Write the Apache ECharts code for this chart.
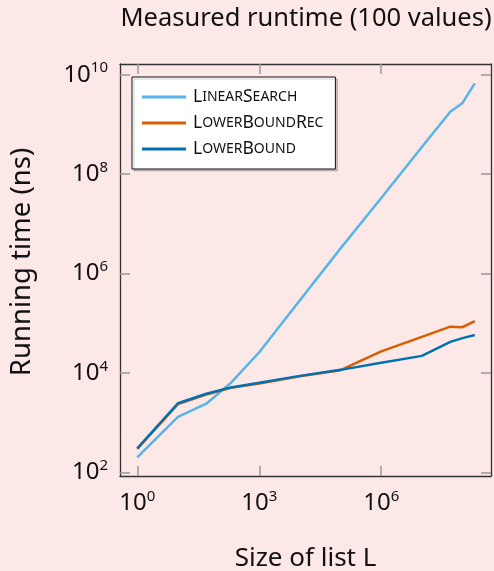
<!DOCTYPE html>
<html>
<head>
<meta charset="utf-8">
<script src="https://cdn.jsdelivr.net/npm/echarts@6/dist/echarts.min.js"></script>
<style>
html,body{margin:0;padding:0;background:#fde8e8;}
#chart{width:494px;height:571px;}
</style>
</head>
<body>
<div id="chart"></div>
<script>
// ---- data ----
const sizes = [1, 10, 50, 200, 1000, 1e4, 1e5, 1e6, 1e7, 5e7, 1e8, 2e8];
const linearSearch = [200, 1300, 2400, 6300, 26000, 290000, 3.2e6, 3.3e7, 3.5e8, 1.8e9, 2.7e9, 6.7e9];
const lowerBoundRec = [295, 2350, 3650, 5000, 6100, 8500, 11300, 27000, 53000, 85000, 83000, 110000];
const lowerBound = [302, 2450, 3800, 5100, 6300, 8700, 11500, 16000, 22000, 42000, 50000, 58000];
const seriesNames = ['LinearSearch', 'LowerBoundRec', 'LowerBound'];
const xTicks = [1, 1e3, 1e6];
const yTicks = [1e2, 1e4, 1e6, 1e8, 1e10];
const titleText = 'Measured runtime (100 values)';
const xTitle = 'Size of list L';
const yTitle = 'Running time (ns)';

const FONT = 'Noto Sans';
const colors = ['#56B4E9', '#D55E00', '#0072B2'];

function pairs(xs, ys) { return xs.map((x, i) => [x, ys[i]]); }
function powLabel(v) {
  const e = Math.round(Math.log10(v));
  return '{b|10}{s|' + e + '}';
}
function smallCaps(name) {
  let out = '';
  let run = '';
  for (const ch of name) {
    if (ch >= 'A' && ch <= 'Z') {
      if (run) { out += '{s|' + run.toUpperCase() + '}'; run = ''; }
      out += '{c|' + ch + '}';
    } else run += ch;
  }
  if (run) out += '{s|' + run.toUpperCase() + '}';
  return out;
}
const labelRich = {
  b: { fontSize: 24, fontFamily: FONT, color: '#111', lineHeight: 28 },
  s: { fontSize: 15, fontFamily: FONT, color: '#111', lineHeight: 16, verticalAlign: 'top' }
};
const frame = { show: true, lineStyle: { color: '#333', width: 1.3 } };
const tick = { show: true, inside: true, length: 10, lineStyle: { color: '#999', width: 1.5 } };

const xMin = Math.pow(10, -0.425), xMax = Math.pow(10, 8.70);
const yMin = Math.pow(10, 1.925), yMax = Math.pow(10, 10.215);

const chart = echarts.init(document.getElementById('chart'), null, { renderer: 'canvas' });
chart.setOption({
  backgroundColor: '#fde8e8',
  animation: false,
  title: {
    text: titleText, left: 306, top: 4, textAlign: 'center', padding: 0,
    textStyle: { fontFamily: FONT, fontSize: 25.5, fontWeight: 'normal', color: '#111', lineHeight: 30 }
  },
  grid: { left: 120, right: 3, top: 64, bottom: 95, containLabel: false, outerBoundsMode: 'none' },
  legend: {
    orient: 'vertical', left: 132, top: 77,
    padding: [11, 12, 11, 10], itemGap: 8, itemWidth: 44, itemHeight: 3, icon: 'rect',
    backgroundColor: '#ffffff', borderColor: '#111', borderWidth: 1,
    shadowColor: 'rgba(0,0,0,0.18)', shadowBlur: 0, shadowOffsetX: 2, shadowOffsetY: 2,
    data: seriesNames,
    formatter: smallCaps,
    textStyle: {
      padding: [0, 0, 0, 2],
      rich: {
        c: { fontSize: 17.5, fontFamily: FONT, color: '#111', lineHeight: 19 },
        s: { fontSize: 14, fontFamily: FONT, color: '#111', lineHeight: 19 }
      }
    }
  },
  xAxis: [{
    type: 'log', logBase: 10, min: xMin, max: xMax,
    axisLine: frame, splitLine: { show: false },
    axisTick: Object.assign({ customValues: xTicks }, tick),
    axisLabel: { customValues: xTicks, formatter: powLabel, rich: labelRich, margin: 13 },
    name: xTitle, nameLocation: 'middle', nameGap: 70,
    nameTextStyle: { fontFamily: FONT, fontSize: 26, color: '#111' }
  }, {
    type: 'log', logBase: 10, min: xMin, max: xMax, position: 'top',
    axisLine: frame, splitLine: { show: false },
    axisTick: Object.assign({ customValues: xTicks }, tick),
    axisLabel: { show: false }
  }],
  yAxis: [{
    type: 'log', logBase: 10, min: yMin, max: yMax,
    axisLine: frame, splitLine: { show: false },
    axisTick: Object.assign({ customValues: yTicks }, tick),
    axisLabel: { customValues: yTicks, formatter: powLabel, rich: labelRich, margin: 12 },
    name: yTitle, nameLocation: 'middle', nameGap: 84, nameRotate: 90,
    nameTextStyle: { fontFamily: FONT, fontSize: 27.5, color: '#111', padding: [0, 0, 0, 16] }
  }, {
    type: 'log', logBase: 10, min: yMin, max: yMax, position: 'right',
    axisLine: frame, splitLine: { show: false },
    axisTick: Object.assign({ customValues: yTicks }, tick),
    axisLabel: { show: false }
  }],
  series: [
    { name: seriesNames[0], type: 'line', data: pairs(sizes, linearSearch), symbol: 'none',
      lineStyle: { width: 2.5, color: colors[0] }, itemStyle: { color: colors[0] } },
    { name: seriesNames[1], type: 'line', data: pairs(sizes, lowerBoundRec), symbol: 'none',
      lineStyle: { width: 2.5, color: colors[1] }, itemStyle: { color: colors[1] } },
    { name: seriesNames[2], type: 'line', data: pairs(sizes, lowerBound), symbol: 'none',
      lineStyle: { width: 2.5, color: colors[2] }, itemStyle: { color: colors[2] } }
  ]
});
</script>
</body>
</html>
